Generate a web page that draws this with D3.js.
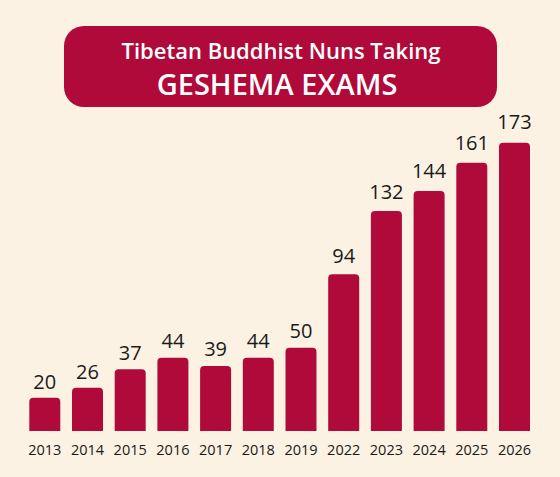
<!DOCTYPE html>
<html><head><meta charset="utf-8">
<script src="https://cdn.jsdelivr.net/npm/d3@7"></script>
<style>
html,body{margin:0;padding:0;background:#fbf2e3;}
svg{display:block;}
</style></head>
<body>
<svg id="chart" width="560" height="477"></svg>
<script>
const years = ["2013","2014","2015","2016","2017","2018","2019","2022","2023","2024","2025","2026"];
const nuns = [20,26,37,44,39,44,50,94,132,144,161,173];
const titleLines = ["Tibetan Buddhist Nuns Taking","GESHEMA EXAMS"];

const W = 560, H = 477;
const barColor = "#b00a3a";
const svg = d3.select("#chart");
svg.append("rect").attr("width",W).attr("height",H).attr("fill","#fbf2e3");

// title box
svg.append("rect").attr("x",64).attr("y",26).attr("width",433).attr("height",81)
  .attr("rx",20).attr("fill",barColor);
svg.append("text").attr("x",281).attr("y",58.5).attr("text-anchor","middle")
  .attr("fill","#fff").attr("font-family","Open Sans").attr("font-weight",600)
  .attr("font-size",22).text(titleLines[0]);
svg.append("text").attr("x",277).attr("y",94.5).attr("text-anchor","middle")
  .attr("fill","#fff").attr("font-family","Open Sans").attr("font-weight",600)
  .attr("font-size",29).text(titleLines[1]);

const x = d3.scaleBand().domain(years).range([23.45,535.85]).paddingInner(0.274).paddingOuter(0.137);
const y = d3.scaleLinear().domain([0,173]).range([431,142.7]);
const yLabel = d3.scaleLinear().domain([0,173]).range([422.6,129.2]);

const r = 4;
function barPath(x0,w,yt,yb){
  return `M${x0},${yb}V${yt+r}Q${x0},${yt} ${x0+r},${yt}H${x0+w-r}Q${x0+w},${yt} ${x0+w},${yt+r}V${yb}Z`;
}
const data = years.map((yr,i)=>({yr, v:nuns[i]}));
svg.append("g").selectAll("path").data(data).join("path")
  .attr("d",d=>barPath(x(d.yr),x.bandwidth(),y(d.v),y(0)))
  .attr("fill",barColor);

svg.append("g").selectAll("text").data(data).join("text")
  .attr("x",d=>x(d.yr)+x.bandwidth()/2).attr("y",d=>yLabel(d.v))
  .attr("text-anchor","middle").attr("font-family","Open Sans").attr("font-size",20)
  .attr("fill","#1a1a1a").text(d=>d.v);

const xAxis = d3.axisBottom(x).tickSize(0).tickPadding(0);
const gx = svg.append("g").attr("transform",`translate(0,${y(0)})`).call(xAxis);
gx.select(".domain").remove();
gx.selectAll("text").attr("font-family","Open Sans").attr("font-size",14.5)
  .attr("fill","#1a1a1a").attr("dy",null).attr("y",23.5);
</script>
</body></html>
